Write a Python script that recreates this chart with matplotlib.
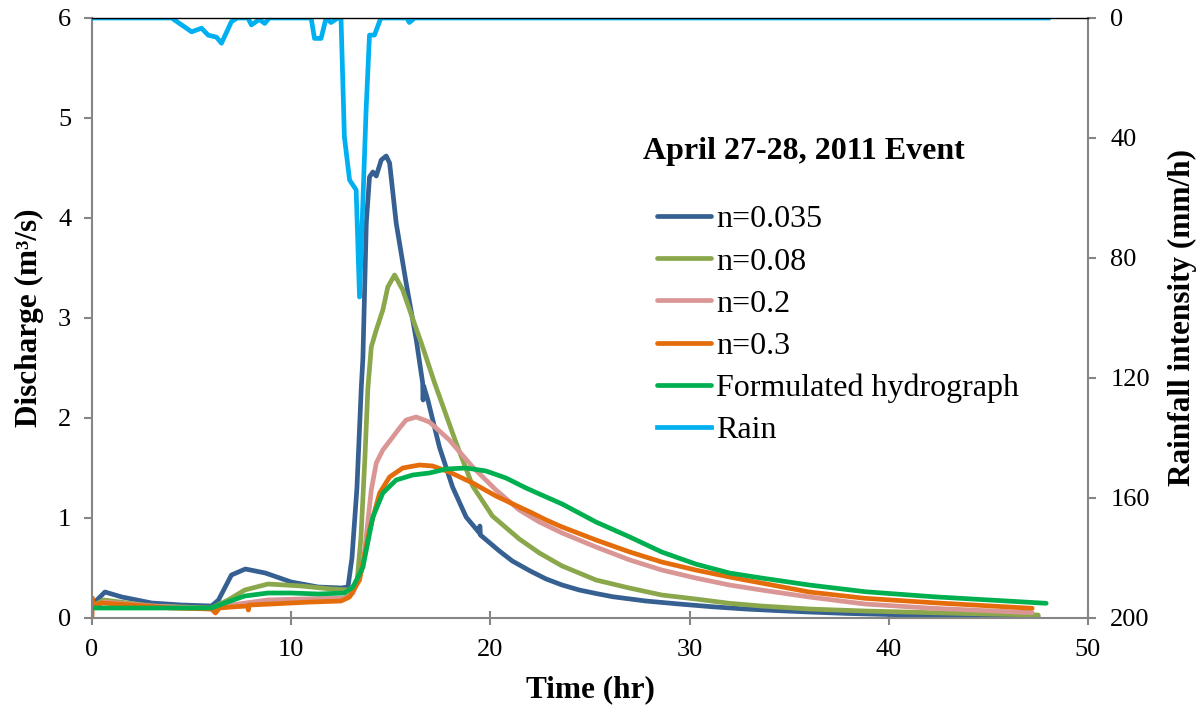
import matplotlib
matplotlib.use("Agg")
import matplotlib.pyplot as plt

plt.rcParams['font.family'] = ['Liberation Serif', 'DejaVu Serif']

## data (time in hr, discharge in m3/s, rain in mm/h)
t_035 = [0, 0.25, 0.65, 1.5, 3.0, 4.5, 6.0, 6.35, 7.0, 7.7, 8.7, 10.0, 11.35, 12.5, 12.85, 13.05, 13.3,
         13.52, 13.6, 13.77, 13.93, 14.1, 14.27, 14.52, 14.77, 14.94, 15.27, 15.77, 16.28, 16.6, 16.62, 16.65,
         16.86, 17.44, 18.1, 18.78, 19.45, 19.47, 19.5, 20.45, 21.1, 22.0, 22.8, 23.6, 24.46, 25.3, 26.13,
         27.8, 29.47, 31.1, 32.8, 34.5, 36.0, 38.0, 40.0, 42.0, 44.0, 47.5]
q_035 = [0.10, 0.18, 0.26, 0.21, 0.15, 0.13, 0.12, 0.18, 0.43, 0.49, 0.45, 0.36, 0.31, 0.30, 0.31, 0.6, 1.3,
         2.31, 2.6, 3.95, 4.41, 4.46, 4.42, 4.58, 4.62, 4.55, 3.95, 3.35, 2.78, 2.35, 2.18, 2.32,
         2.18, 1.71, 1.31, 1.01, 0.85, 0.92, 0.83, 0.67, 0.57, 0.47, 0.39, 0.33, 0.28, 0.245, 0.213,
         0.17, 0.14, 0.113, 0.09, 0.073, 0.06, 0.045, 0.035, 0.027, 0.02, 0.015]

t_08 = [0, 0.6, 3.0, 6.0, 6.83, 7.67, 8.84, 10.5, 12.0, 12.9, 13.3, 13.5, 13.7, 13.85, 14.02, 14.27, 14.6,
        14.85, 15.19, 15.6, 16.0, 16.6, 17.2, 18.28, 19.11, 20.1, 21.45, 22.46, 23.6, 25.3, 26.97, 28.6,
        30.3, 32.0, 33.6, 36.0, 38.8, 42.2, 45.0, 47.5]
q_08 = [0.12, 0.18, 0.12, 0.10, 0.18, 0.28, 0.34, 0.32, 0.29, 0.28, 0.35, 0.8, 1.6, 2.3, 2.71, 2.88, 3.08,
        3.31, 3.43, 3.28, 3.05, 2.71, 2.35, 1.75, 1.32, 1.02, 0.79, 0.65, 0.52, 0.38, 0.30, 0.23,
        0.19, 0.147, 0.12, 0.09, 0.07, 0.053, 0.04, 0.03]

t_02 = [0, 0.6, 3.0, 6.0, 7.0, 8.8, 10.5, 12.7, 13.1, 13.6, 14.02, 14.27, 14.6, 15.1, 15.44, 15.77, 16.27,
        16.94, 17.94, 19.11, 20.28, 21.45, 22.46, 23.6, 25.3, 27.0, 28.6, 30.3, 32.0, 33.6, 36.0, 38.8,
        42.2, 47.2]
q_02 = [0.10, 0.16, 0.12, 0.09, 0.13, 0.18, 0.19, 0.20, 0.25, 0.51, 1.28, 1.55, 1.68, 1.81, 1.90, 1.98, 2.01,
        1.96, 1.78, 1.51, 1.28, 1.08, 0.96, 0.85, 0.71, 0.58, 0.48, 0.40, 0.33, 0.28, 0.21, 0.14,
        0.097, 0.053]

t_03 = [0, 0.02, 0.05, 0.5, 2.0, 4.0, 6.0, 6.2, 6.4, 7.0, 7.8, 7.85, 7.9, 9.0, 11.0, 12.5, 12.93, 13.43,
        13.93, 14.44, 14.94, 15.6, 16.44, 17.1, 17.94, 19.11, 20.28, 21.45, 22.1, 22.8, 23.6, 25.3, 27.0,
        28.6, 30.3, 32.0, 33.6, 36.0, 38.8, 42.2, 47.2]
q_03 = [0.0, 0.2, 0.12, 0.15, 0.13, 0.10, 0.09, 0.05, 0.10, 0.11, 0.12, 0.08, 0.13, 0.14, 0.16, 0.17, 0.21, 0.38,
        0.88, 1.25, 1.41, 1.50, 1.53, 1.52, 1.46, 1.35, 1.22, 1.11, 1.05, 0.98, 0.91, 0.78, 0.66,
        0.56, 0.48, 0.41, 0.35, 0.26, 0.197, 0.153, 0.097]

t_form = [0, 3.0, 6.0, 6.8, 7.67, 8.84, 10.0, 11.35, 12.68, 13.1, 13.6, 14.1, 14.6, 15.27, 16.1, 16.94,
          17.78, 18.78, 19.78, 20.78, 21.79, 22.46, 23.6, 25.3, 27.0, 28.6, 30.3, 32.0, 33.6, 36.0,
          38.8, 42.2, 47.9]
q_form = [0.10, 0.10, 0.10, 0.16, 0.22, 0.25, 0.25, 0.24, 0.25, 0.31, 0.51, 1.01, 1.25, 1.38, 1.43, 1.45,
          1.49, 1.50, 1.47, 1.40, 1.30, 1.24, 1.14, 0.96, 0.81, 0.66, 0.54, 0.45, 0.40, 0.33,
          0.263, 0.213, 0.147]

t_rain = [0, 4.0, 5.0, 5.5, 5.83, 6.25, 6.5, 7.0, 7.3, 7.83, 8.0, 8.4, 8.67, 8.9, 11.0, 11.17, 11.5, 11.75,
          12.0, 12.34, 12.5, 12.67, 12.93, 13.26, 13.43, 13.76, 13.93, 14.18, 14.5, 15.8, 15.93, 16.2, 48.0]
rain = [0, 0, 4.6, 3.4, 5.7, 6.4, 8.4, 1.2, 0, 0, 2.3, 0.5, 1.8, 0, 0, 6.8, 6.8, 0,
        1.5, 0, 0, 39.6, 54.0, 57.3, 93.0, 30.7, 5.7, 5.7, 0, 0, 1.5, 0, 0]

names = ["n=0.035", "n=0.08", "n=0.2", "n=0.3", "Formulated hydrograph", "Rain"]
colors = ["#376092", "#8AA84B", "#D99694", "#E46C0A", "#00B050", "#00B0F0"]

fig = plt.figure(figsize=(11.99, 7.06), dpi=100)
ax = fig.add_axes([92 / 1199, 1 - 618 / 706, (1088 - 92) / 1199, 600 / 706])
ax2 = ax.twinx()

lw = 3.4
series = [(t_035, q_035), (t_08, q_08), (t_02, q_02), (t_03, q_03), (t_form, q_form)]
handles = []
for (tt, qq), c, nm in zip(series, colors, names):
    h, = ax.plot(tt, qq, color=c, lw=lw, label=nm, solid_capstyle='round', solid_joinstyle='round')
    handles.append(h)
h, = ax2.plot(t_rain, rain, color=colors[5], lw=lw, label=names[5], solid_joinstyle='round')
handles.append(h)

ax.set_xlim(0, 50)
ax.set_ylim(0, 6)
ax2.set_ylim(200, 0)
ax.set_xticks(range(0, 51, 10))
ax.set_yticks(range(0, 7))
ax2.set_yticks(range(0, 201, 40))

grey = "#868686"
for a in (ax, ax2):
    for s in a.spines.values():
        s.set_visible(False)
ax.spines['left'].set_visible(True)
ax.spines['left'].set_color(grey)
ax.spines['bottom'].set_visible(True)
ax.spines['bottom'].set_color(grey)
ax2.spines['right'].set_visible(True)
ax2.spines['right'].set_color(grey)
ax2.spines['top'].set_visible(True)
ax2.spines['top'].set_color('black')
for s in ('left', 'bottom', 'right', 'top'):
    ax.spines[s].set_linewidth(1.5)
    ax2.spines[s].set_linewidth(1.5)
ax2.spines['top'].set_linewidth(1.0)

ax.tick_params(axis='y', direction='out', length=6, width=1.5, color=grey, pad=9, labelsize=19)
ax.tick_params(axis='x', direction='inout', length=10, width=1.5, color=grey, pad=10, labelsize=19)
ax2.tick_params(axis='y', direction='out', length=6, width=1.5, color=grey, pad=10, labelsize=19)

ax.set_xlabel("Time (hr)", fontsize=22.5, fontweight='bold', labelpad=10)
ax.set_ylabel("Discharge (m³/s)", fontsize=22.5, fontweight='bold', labelpad=10)
ax2.set_ylabel("Rainfall intensity (mm/h)", fontsize=22.5, fontweight='bold', labelpad=13)

fig.text(643 / 1199, 1 - 152 / 706, "April 27-28, 2011 Event", fontsize=23, fontweight='bold',
         ha='left', va='center')
fig.legend(handles=handles, labels=names, loc='upper left', bbox_to_anchor=(657 / 1199, 1 - 205 / 706),
           frameon=False, fontsize=23, handlelength=1.7, handletextpad=0.15, labelspacing=0.4,
           borderpad=0, borderaxespad=0)

fig.savefig("out.png", dpi=100)
